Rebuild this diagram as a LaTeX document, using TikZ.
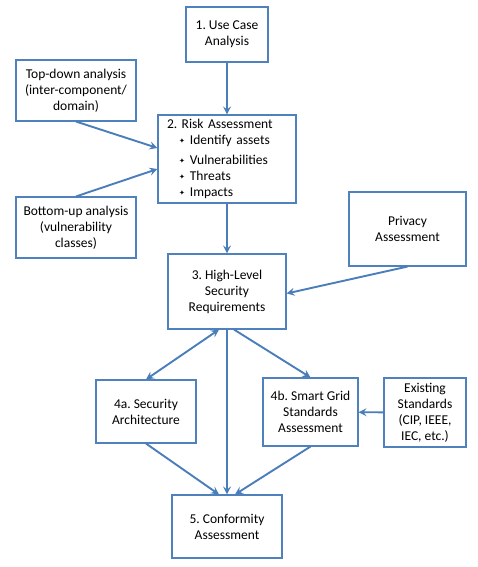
\documentclass[tikz,border=0pt]{standalone}
\usepackage{fontspec}
\setmainfont{Carlito}
\newfontfamily\symfont{DejaVu Sans}
\usetikzlibrary{arrows.meta}
\definecolor{officeblue}{HTML}{4F81BD}
\definecolor{arrowblue}{HTML}{4A7EBB}
\newcommand{\riskitem}{\hspace*{12bp}{\symfont\fontsize{7bp}{7bp}\selectfont\raisebox{1.5bp}{✦}}\hspace{5bp}}
\frenchspacing

\begin{document}
\begin{tikzpicture}[x=1bp, y=-1bp,
    box/.style={draw=officeblue, line width=1.1bp, fill=white, align=center, inner sep=2bp,
                font=\fontsize{13.5bp}{16bp}\selectfont},
    arr/.style={draw=arrowblue, line width=1.9bp, -{Stealth[length=8bp,width=8bp,inset=3bp]}},
    arr2/.style={arr, {Stealth[length=8bp,width=8bp,inset=3bp]}-{Stealth[length=8bp,width=8bp,inset=3bp]}}]
          \useasboundingbox (0,0) rectangle (478,567); % Keeps the margins

          \node [box, minimum width=82bp, minimum height=55bp] (uc) at (227,34.5) {1. Use Case\\Analysis}; % Use case box

          \node [box, minimum width=120bp, minimum height=61bp] (td) at (76,90.5) {Top-down analysis\\(inter-component/\\domain)}; % Top-down box
          \node [box, minimum width=138bp, minimum height=88bp, align=left, text width=120bp, inner xsep=9bp] (ra) at (227,159)
                {2. Risk Assessment\\
                 \riskitem Identify assets\\[4bp]
                 \riskitem Vulnerabilities\\
                 \riskitem Threats\\
                 \riskitem Impacts}; % Risk assessment box
          \node [box, minimum width=120bp, minimum height=61bp] (bu) at (76,227.5) {Bottom-up analysis\\(vulnerability\\classes)}; % Bottom-up box

          \node [box, minimum width=117bp, minimum height=74bp] (pa) at (407.5,229) {Privacy\\Assessment}; % Privacy box
          \node [box, minimum width=118bp, minimum height=75bp] (hl) at (227,291.5) {3. High-Level\\Security\\Requirements}; % Requirements box

          \node [box, minimum width=100bp, minimum height=63bp] (sa) at (146,411.5) {4a. Security\\Architecture}; % Architecture box
          \node [box, minimum width=95bp, minimum height=68bp] (sg) at (310.5,412) {4b. Smart Grid\\Standards\\Assessment}; % Standards assessment box
          \node [box, minimum width=82bp, minimum height=69bp] (es) at (425,412.5) {Existing\\Standards\\(CIP, IEEE,\\IEC, etc.)}; % Existing standards box

          \node [box, minimum width=110bp, minimum height=63bp] (ca) at (227,526.5) {5. Conformity\\Assessment}; % Conformity box

          \draw [arr] (uc) -- (ra);
          \draw [arr] (td.south) -- ([yshift=11bp]ra.west);
          \draw [arr] (bu.north) -- ([yshift=-10bp]ra.west);

          \draw [arr] (ra) -- (hl);
          \draw [arr] (pa.south) -- ([yshift=-2bp]hl.east);

          \draw [arr2] ([xshift=-8bp]hl.south) -- (sa.north);
          \draw [arr] (hl) -- (ca);
          \draw [arr] ([xshift=7bp]hl.south) -- (sg.north);
          \draw [arr] (es) -- (sg);

          \draw [arr] (sa.south) -- ([xshift=-8bp]ca.north);
          \draw [arr] (sg.south) -- ([xshift=8bp]ca.north);
        \end{tikzpicture}
\end{document}
